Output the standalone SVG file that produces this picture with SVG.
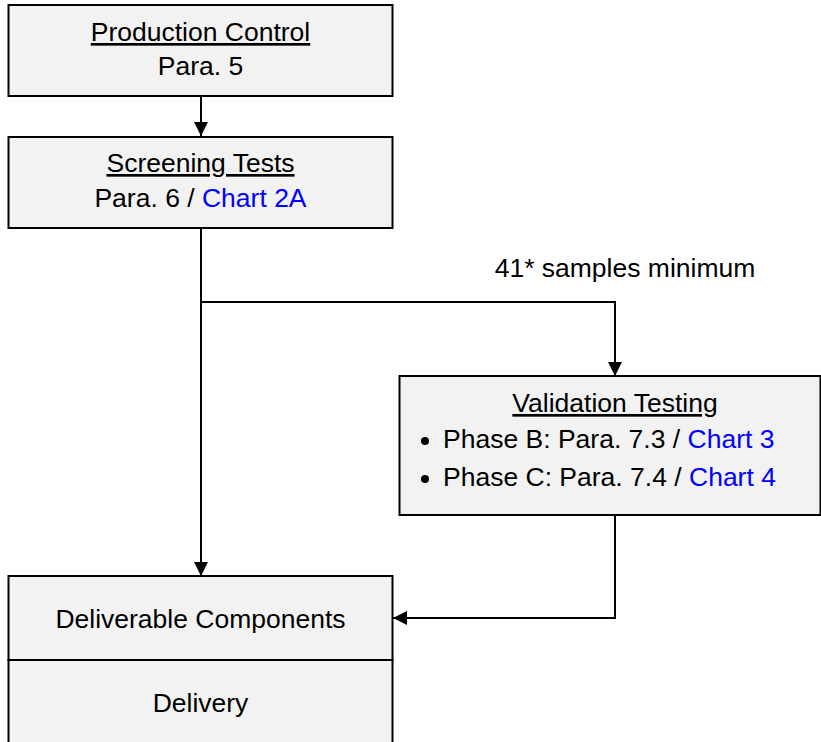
<svg xmlns="http://www.w3.org/2000/svg" width="821" height="742" viewBox="0 0 821 742">
<style>
.box{fill:#f2f2f2;stroke:#000;stroke-width:2}
.t{font-family:"Liberation Sans",Arial,sans-serif;font-size:26.5px;fill:#000}
.c{text-anchor:middle}
.u{text-decoration:underline}
.l{fill:#0000ff}
.ln{fill:none;stroke:#000;stroke-width:2}
</style>
<defs>
<marker id="ah" markerWidth="14" markerHeight="14" refX="14" refY="7" orient="auto" markerUnits="userSpaceOnUse">
<path d="M0,0 L14,7 L0,14 Z" fill="#000"/>
</marker>
</defs>
<rect width="821" height="742" fill="#fff"/>
<g id="connectors">
<path class="ln" d="M201,96 V136" marker-end="url(#ah)"/>
<path class="ln" d="M201,228 V576" marker-end="url(#ah)"/>
<path class="ln" d="M201,302 H615 V376" marker-end="url(#ah)"/>
<path class="ln" d="M615,515 V618 H393" marker-end="url(#ah)"/>
<text class="t c" x="625" y="277">41* samples minimum</text>
</g>
<g id="production-control">
<rect class="box" x="8.5" y="5" width="384" height="91"/>
<text class="t c u" x="200.5" y="41">Production Control</text>
<text class="t c" x="200.5" y="75">Para. 5</text>
</g>
<g id="screening-tests">
<rect class="box" x="8.5" y="137" width="384" height="91"/>
<text class="t c u" x="200.5" y="172">Screening Tests</text>
<text class="t c" x="200.5" y="207">Para. 6 / <tspan class="l">Chart 2A</tspan></text>
</g>
<g id="validation-testing">
<rect class="box" x="399.5" y="376" width="421" height="139"/>
<text class="t c u" x="615" y="412">Validation Testing</text>
<circle cx="425" cy="441" r="4" fill="#000"/>
<text class="t" x="443" y="448">Phase B: Para. 7.3 / <tspan class="l">Chart 3</tspan></text>
<circle cx="425" cy="479" r="4" fill="#000"/>
<text class="t" x="443" y="486">Phase C: Para. 7.4 / <tspan class="l">Chart 4</tspan></text>
</g>
<g id="deliverable-components">
<rect class="box" x="8.5" y="576" width="384" height="84"/>
<text class="t c" x="200.5" y="628">Deliverable Components</text>
</g>
<g id="delivery">
<rect class="box" x="8.5" y="660" width="384" height="100"/>
<text class="t c" x="200.5" y="712">Delivery</text>
</g>
</svg>
